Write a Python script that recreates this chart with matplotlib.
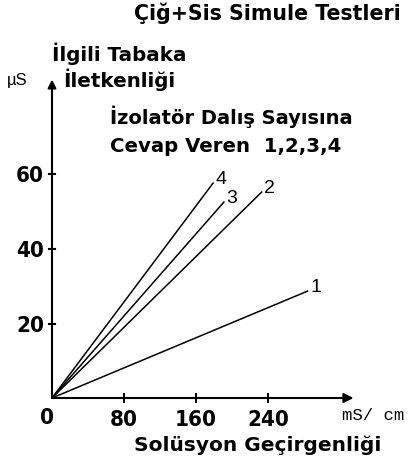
import matplotlib
matplotlib.use("Agg")
import matplotlib.pyplot as plt

# Data
series_labels = ["1", "2", "3", "4"]
x_end = [284, 233, 191, 179]
y_end = [28.7, 55.3, 52.6, 57.7]
xticks = [80, 160, 240]
yticks = [20, 40, 60]

SANS = ["DejaVu Sans"]
PX_X = 0.9      # pixels per x unit
PX_Y = 3.725    # pixels per y unit

fig = plt.figure(figsize=(4.16, 4.69), dpi=100)
ax = fig.add_axes([0, 0, 1, 1])
ax.set_xlim(-52 / PX_X, (416 - 52) / PX_X)
ax.set_ylim(-(469 - 398) / PX_Y, 398 / PX_Y)
ax.axis("off")

# axes with arrows
ax.annotate("", xy=(335, 0), xytext=(0, 0),
            arrowprops=dict(arrowstyle="-|>", color="black", lw=1.5,
                            mutation_scale=14, shrinkA=0, shrinkB=0))
ax.annotate("", xy=(0.0, 85.5), xytext=(0, 0),
            arrowprops=dict(arrowstyle="-|>", color="black", lw=1.5,
                            mutation_scale=12, shrinkA=0, shrinkB=0))

# ticks
tick_base = -(426 - 398) / PX_Y
for xt in xticks:
    ax.plot([xt, xt], [-1.2, 1.2], color="black", lw=1.5)
    ax.text(xt, tick_base, str(xt), ha="center", va="baseline", fontsize=16,
            fontweight="bold", family=SANS, fontstretch="condensed")
for yt in yticks:
    ax.plot([-3.5, 3.5], [yt, yt], color="black", lw=1.5)
    ax.text(-9, yt - 8 / PX_Y, str(yt), ha="right", va="baseline",
            fontsize=16, fontweight="bold", family=SANS,
            fontstretch="condensed")
ax.text(-5.5, -(424 - 398) / PX_Y, "0", ha="center", va="baseline",
        fontsize=16, fontweight="bold", family=SANS, fontstretch="condensed")

# lines
for lab, xe, ye in zip(series_labels, x_end, y_end):
    ax.plot([0, xe], [0, ye], color="black", lw=1.1)
    ax.text(xe + 3, ye + 1.0, lab, ha="left", va="center", fontsize=14,
            family=["Liberation Sans", "DejaVu Sans"])


def ftext(px, py, s, **kw):
    fig.text(px / 416, 1 - py / 469, s, **kw)


ftext(267, 20.5, "Çiğ+Sis Simule Testleri", ha="center", va="baseline",
      fontsize=14.8, fontweight="bold", family=SANS)
ftext(52, 61, "İlgili Tabaka", ha="left", va="baseline",
      fontsize=14.3, fontweight="bold", family=SANS)
ftext(63, 87, "İletkenliği", ha="left", va="baseline",
      fontsize=14.3, fontweight="bold", family=SANS)
ftext(7, 85, "µS", ha="left", va="baseline",
      fontsize=12, family=["Liberation Sans", "DejaVu Sans"])
ftext(110, 124, "İzolatör Dalış Sayısına", ha="left", va="baseline",
      fontsize=14.0, fontweight="bold", family=SANS)
ftext(110, 152, "Cevap Veren  1,2,3,4", ha="left", va="baseline",
      fontsize=14.2, fontweight="bold", family=SANS)
ftext(342, 420, "mS/ cm", ha="left", va="baseline",
      fontsize=12.5, family=["Liberation Mono", "DejaVu Sans Mono"])
ftext(257.5, 451, "Solüsyon Geçirgenliği", ha="center", va="baseline",
      fontsize=14.5, fontweight="bold", family=SANS)

fig.savefig("out.png", dpi=100)
